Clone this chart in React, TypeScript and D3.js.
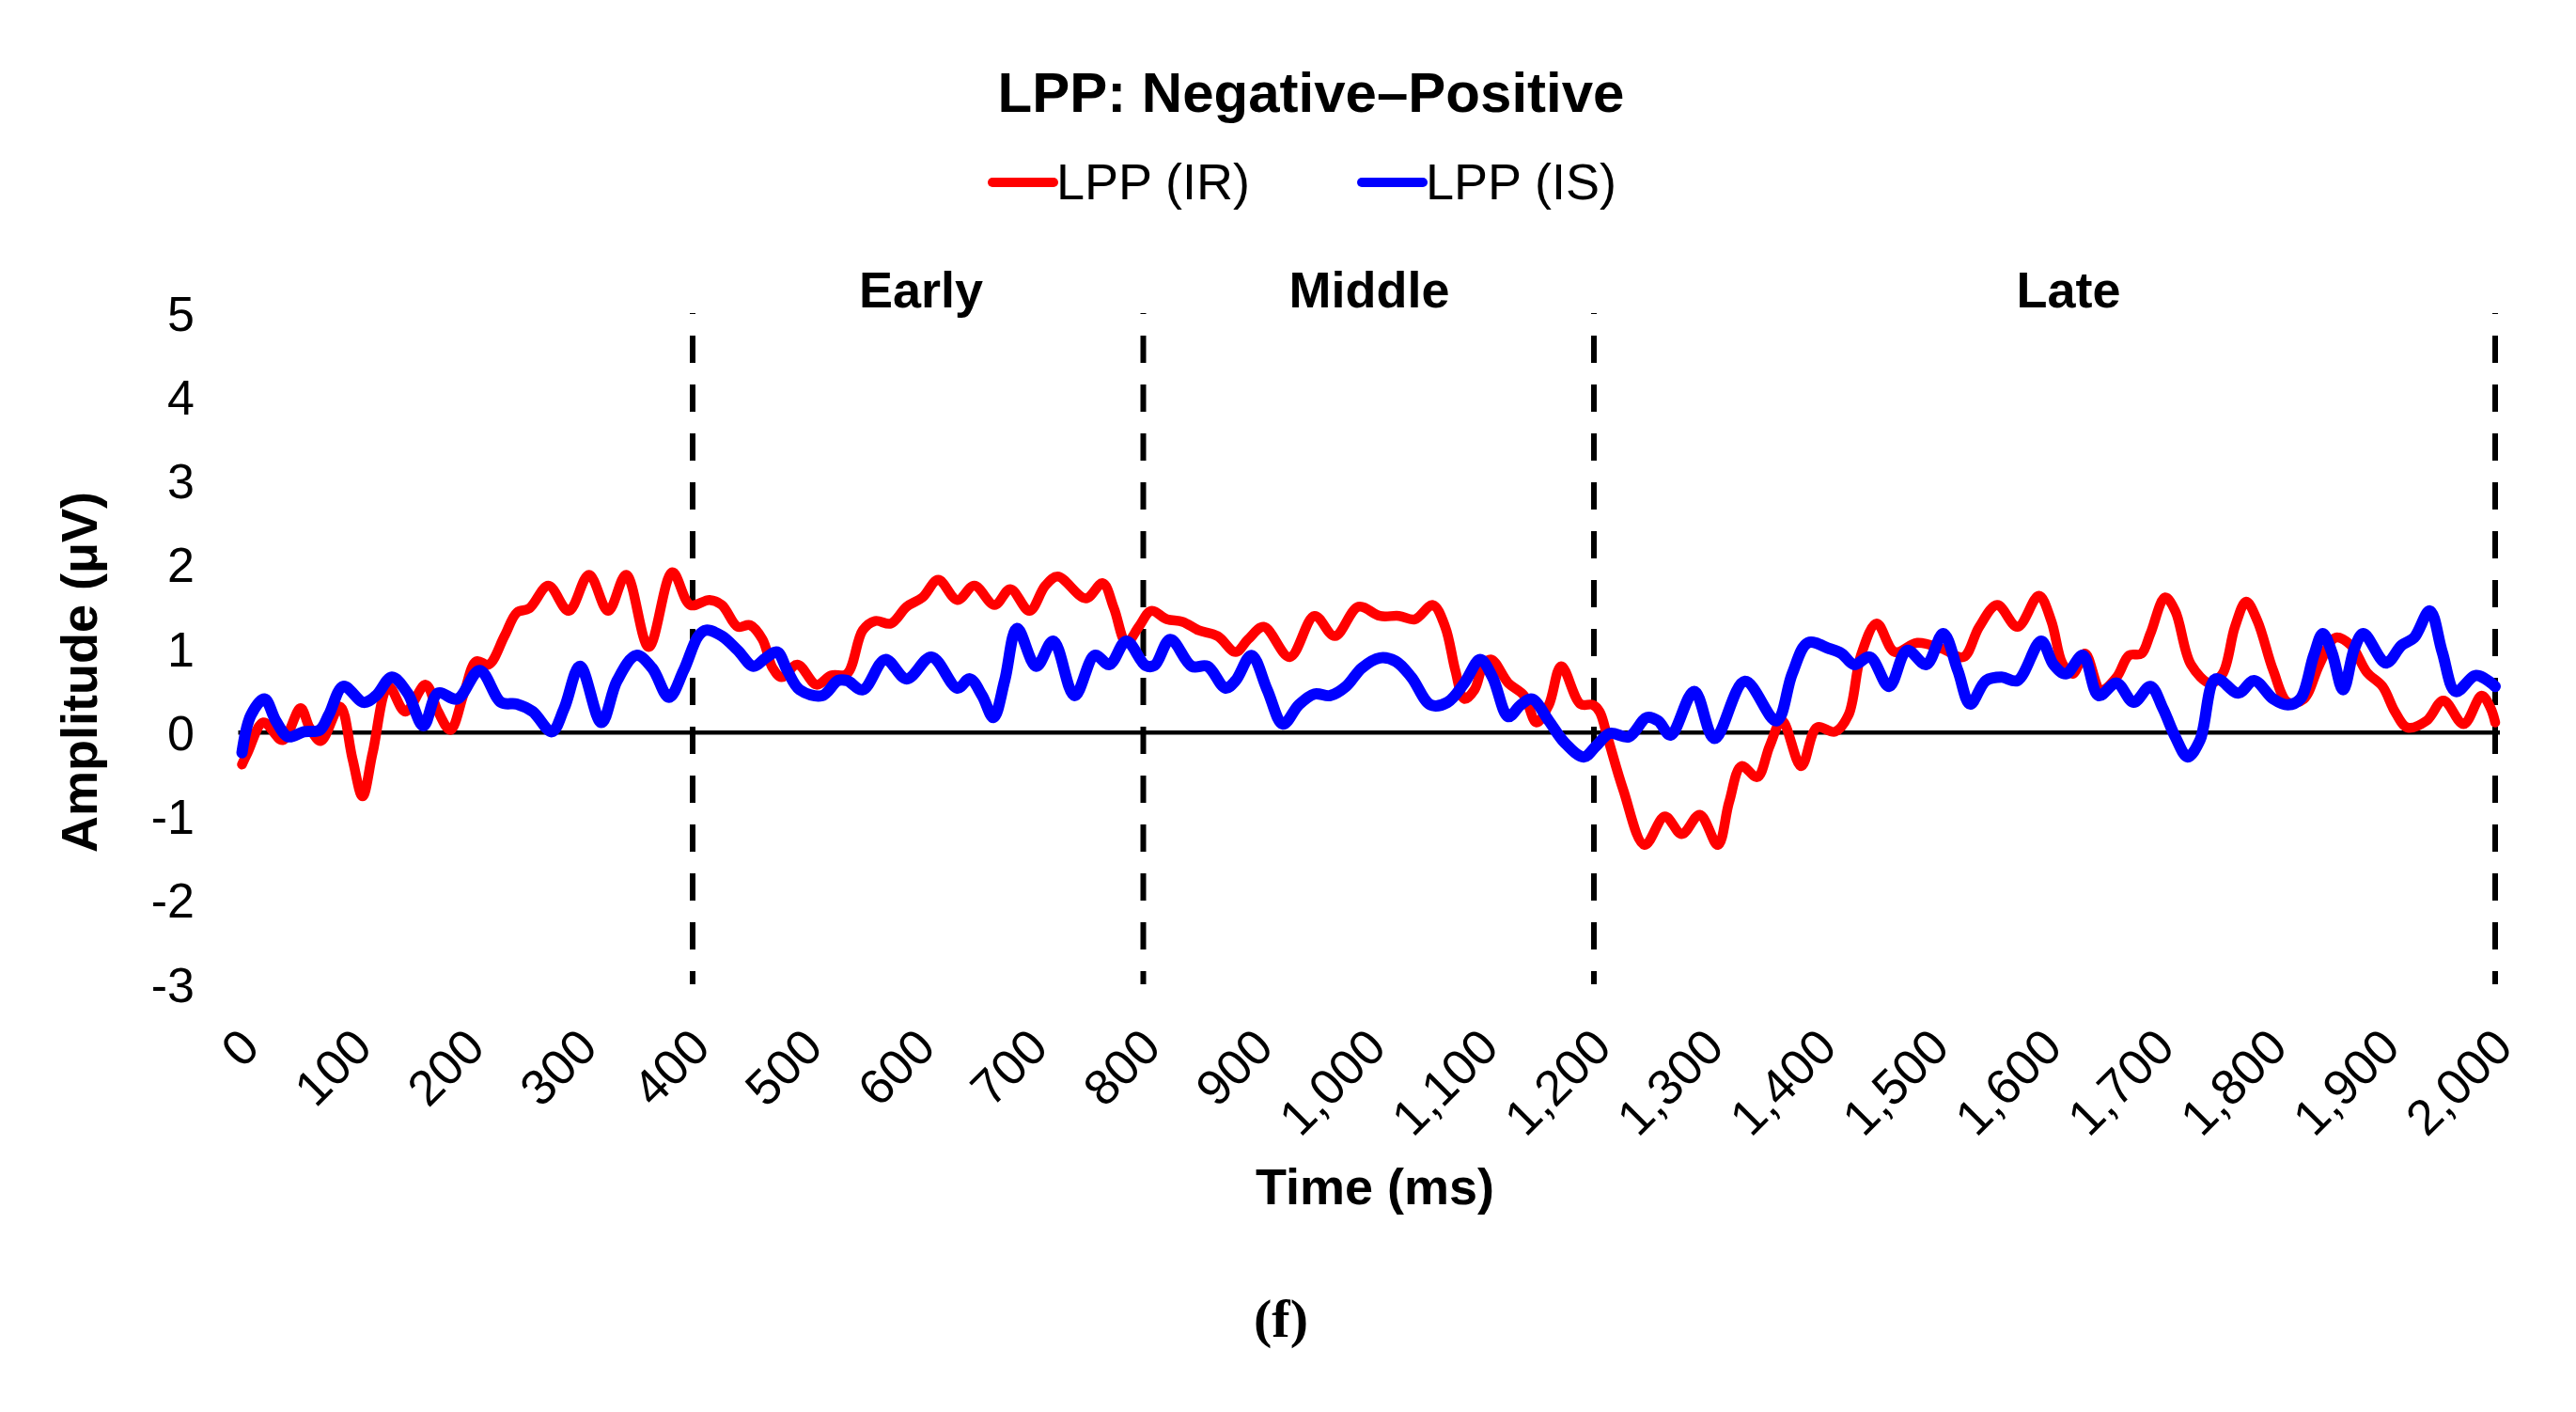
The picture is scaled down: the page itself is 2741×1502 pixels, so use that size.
import React from 'react';
import * as d3 from 'd3';

// LPP (IR) series
const irTime = [0, 5, 19, 36, 52, 60, 70, 87, 98, 107, 116, 130, 145, 163, 174, 185, 197, 208, 219, 233, 244, 255, 272, 290, 308, 325, 341, 361, 382, 398, 415, 426, 440, 451, 462, 471, 479, 493, 510, 523, 537, 551, 562, 576, 590, 604, 618, 635, 650, 668, 682, 699, 713, 724, 749, 764, 774, 785, 796, 807, 821, 835, 849, 866, 882, 893, 907, 930, 952, 970, 991, 1010, 1027, 1041, 1057, 1068, 1077, 1085, 1094, 1102, 1109, 1124, 1138, 1149, 1160, 1171, 1188, 1199, 1205, 1212, 1226, 1245, 1263, 1278, 1294, 1310, 1320, 1331, 1345, 1356, 1367, 1384, 1398, 1414, 1426, 1437, 1451, 1467, 1487, 1509, 1528, 1542, 1558, 1576, 1595, 1606, 1616, 1625, 1636, 1650, 1664, 1675, 1686, 1694, 1707, 1716, 1730, 1747, 1758, 1769, 1779, 1789, 1803, 1816, 1830, 1844, 1858, 1872, 1886, 1900, 1911, 1922, 1939, 1954, 1972, 1988, 1996, 2000];
const irValue = [-0.38, -0.24, 0.12, -0.09, 0.29, 0.06, -0.1, 0.31, -0.31, -0.76, -0.24, 0.55, 0.25, 0.57, 0.25, 0.03, 0.47, 0.85, 0.81, 1.15, 1.43, 1.48, 1.75, 1.45, 1.88, 1.45, 1.88, 1.02, 1.91, 1.52, 1.58, 1.52, 1.26, 1.28, 1.11, 0.77, 0.66, 0.81, 0.57, 0.68, 0.7, 1.22, 1.33, 1.3, 1.5, 1.61, 1.82, 1.58, 1.75, 1.52, 1.71, 1.45, 1.75, 1.86, 1.6, 1.78, 1.48, 1.07, 1.26, 1.45, 1.35, 1.32, 1.22, 1.15, 0.96, 1.11, 1.26, 0.9, 1.39, 1.15, 1.5, 1.39, 1.39, 1.35, 1.52, 1.26, 0.74, 0.4, 0.51, 0.81, 0.87, 0.59, 0.44, 0.12, 0.33, 0.79, 0.34, 0.33, 0.25, -0.05, -0.68, -1.34, -1.0, -1.21, -0.98, -1.34, -0.83, -0.4, -0.53, -0.16, 0.14, -0.4, 0.06, 0.01, 0.21, 0.92, 1.3, 0.96, 1.07, 1.0, 0.9, 1.26, 1.52, 1.26, 1.63, 1.33, 0.82, 0.7, 0.94, 0.51, 0.66, 0.92, 0.94, 1.18, 1.61, 1.45, 0.81, 0.59, 0.7, 1.26, 1.56, 1.33, 0.74, 0.36, 0.4, 0.81, 1.13, 1.04, 0.72, 0.55, 0.25, 0.06, 0.14, 0.38, 0.1, 0.44, 0.29, 0.12];

// LPP (IS) series
const isTime = [0, 8, 20, 30, 41, 55, 69, 77, 90, 108, 119, 133, 147, 161, 174, 191, 211, 230, 244, 258, 275, 286, 300, 319, 333, 350, 364, 379, 392, 405, 412, 426, 440, 454, 465, 475, 484, 495, 515, 529, 537, 551, 571, 590, 612, 635, 646, 657, 667, 677, 688, 705, 720, 739, 757, 770, 785, 802, 810, 824, 843, 857, 873, 882, 896, 910, 924, 938, 952, 966, 980, 994, 1010, 1024, 1038, 1055, 1070, 1085, 1099, 1110, 1124, 1135, 1145, 1160, 1174, 1191, 1202, 1214, 1231, 1247, 1257, 1268, 1289, 1307, 1334, 1362, 1376, 1390, 1409, 1420, 1431, 1445, 1462, 1478, 1495, 1510, 1523, 1534, 1548, 1562, 1576, 1597, 1608, 1619, 1634, 1648, 1664, 1679, 1694, 1705, 1716, 1727, 1738, 1752, 1772, 1786, 1803, 1816, 1827, 1839, 1847, 1855, 1865, 1875, 1883, 1903, 1917, 1928, 1942, 1953, 1965, 1983, 2000];
const isValue = [-0.24, 0.21, 0.4, 0.14, -0.05, 0.01, 0.03, 0.21, 0.55, 0.36, 0.44, 0.66, 0.47, 0.08, 0.47, 0.4, 0.74, 0.36, 0.34, 0.25, 0.01, 0.29, 0.79, 0.12, 0.62, 0.92, 0.77, 0.42, 0.74, 1.15, 1.22, 1.15, 0.98, 0.79, 0.89, 0.96, 0.74, 0.51, 0.44, 0.62, 0.62, 0.51, 0.87, 0.64, 0.9, 0.53, 0.64, 0.44, 0.18, 0.62, 1.24, 0.79, 1.09, 0.44, 0.92, 0.81, 1.09, 0.8, 0.8, 1.11, 0.79, 0.79, 0.53, 0.62, 0.92, 0.51, 0.1, 0.33, 0.46, 0.44, 0.55, 0.77, 0.89, 0.85, 0.66, 0.33, 0.36, 0.59, 0.87, 0.66, 0.19, 0.33, 0.4, 0.14, -0.12, -0.29, -0.16, -0.01, -0.05, 0.18, 0.14, -0.03, 0.49, -0.07, 0.61, 0.14, 0.7, 1.07, 1.0, 0.94, 0.81, 0.9, 0.55, 0.98, 0.81, 1.18, 0.74, 0.34, 0.62, 0.66, 0.62, 1.09, 0.81, 0.7, 0.92, 0.44, 0.59, 0.36, 0.55, 0.29, -0.05, -0.29, -0.09, 0.64, 0.47, 0.62, 0.4, 0.33, 0.4, 0.92, 1.18, 0.96, 0.51, 1.0, 1.18, 0.83, 1.04, 1.13, 1.45, 0.96, 0.49, 0.68, 0.55];

const xTicks = d3.range(0, 2001, 100);
const yTicks = [-3, -2, -1, 0, 1, 2, 3, 4, 5];
const windowBounds = [400, 800, 1200, 2000];
const windowLabels = ['Early', 'Middle', 'Late'];
const windowLabelAt = [980, 1457, 2201]; // pixel centres of the window labels
const seriesNames = ['LPP (IR)', 'LPP (IS)'];
const seriesColors = ['#ff0000', '#0000ff'];

const W = 2741;
const H = 1502;
const sans = '"Liberation Sans", Arial, Helvetica, sans-serif';

const App: React.FC = () => {
  const x = d3.scaleLinear().domain([0, 2000]).range([257.5, 2655]);
  const y = d3.scaleLinear().domain([-3, 5]).range([1047, 333]);

  const line = d3
    .line<[number, number]>()
    .x(d => x(d[0]))
    .y(d => y(d[1]))
    .curve(d3.curveCatmullRom.alpha(0.5));

  const irPts = irTime.map((t, i) => [t, irValue[i]] as [number, number]);
  const isPts = isTime.map((t, i) => [t, isValue[i]] as [number, number]);
  const fmt = d3.format(',');

  return (
    <svg
      width={W}
      height={H}
      style={{ position: 'absolute', left: 0, top: 0, background: '#fff' }}
      fontFamily={sans}
    >
      <rect width={W} height={H} fill="#fff" />

      {/* title */}
      <text x={1395} y={119} textAnchor="middle" fontWeight="bold" fontSize={60}>
        LPP: Negative–Positive
      </text>

      {/* legend */}
      {seriesNames.map((name, i) => {
        const lx = i === 0 ? 1056 : 1449;
        return (
          <g key={name}>
            <line x1={lx} x2={lx + 65} y1={194} y2={194} stroke={seriesColors[i]} strokeWidth={10} strokeLinecap="round" />
            <text x={lx + 68} y={212} fontSize={54}>{name}</text>
          </g>
        );
      })}

      {/* window labels */}
      {windowLabels.map((lab, i) => (
        <text key={lab} x={windowLabelAt[i]} y={327} textAnchor="middle" fontWeight="bold" fontSize={54}>
          {lab}
        </text>
      ))}

      {/* y ticks */}
      {yTicks.map(v => (
        <text key={v} x={207} y={y(v)} dy="0.36em" textAnchor="end" fontSize={52}>
          {String(v)}
        </text>
      ))}

      {/* y axis title */}
      <text
        transform={`translate(84,${715}) rotate(-90)`}
        textAnchor="middle"
        dy="0.36em"
        fontWeight="bold"
        fontSize={54}
      >
        Amplitude (μV)
      </text>

      {/* zero line */}
      <line x1={x(0) - 4} x2={x(2000) + 5} y1={y(0)} y2={y(0)} stroke="#000" strokeWidth={4.5} />

      {/* window boundaries */}
      {windowBounds.map(b => (
        <line
          key={b}
          x1={x(b)}
          x2={x(b)}
          y1={y(5)}
          y2={y(-3)}
          stroke="#000"
          strokeWidth={6}
          strokeDasharray="29 23"
          strokeDashoffset={28}
        />
      ))}

      {/* series */}
      <path d={line(irPts) || ''} fill="none" stroke={seriesColors[0]} strokeWidth={10.5} strokeLinejoin="round" strokeLinecap="round" />
      <path d={line(isPts) || ''} fill="none" stroke={seriesColors[1]} strokeWidth={12} strokeLinejoin="round" strokeLinecap="round" />

      {/* x ticks */}
      {xTicks.map(t => (
        <text
          key={t}
          transform={`translate(${x(t) - 6},${1090}) rotate(-45)`}
          textAnchor="end"
          dy="0.72em"
          fontSize={53}
        >
          {fmt(t)}
        </text>
      ))}

      {/* x axis title */}
      <text x={1463} y={1262} dy="0.36em" textAnchor="middle" fontWeight="bold" fontSize={54}>
        Time (ms)
      </text>

      {/* panel label */}
      <text x={1363} y={1401} dy="0.36em" textAnchor="middle" fontWeight="bold" fontSize={58} fontFamily='"Liberation Serif", "Times New Roman", serif'>
        (f)
      </text>
    </svg>
  );
};

export default App;
